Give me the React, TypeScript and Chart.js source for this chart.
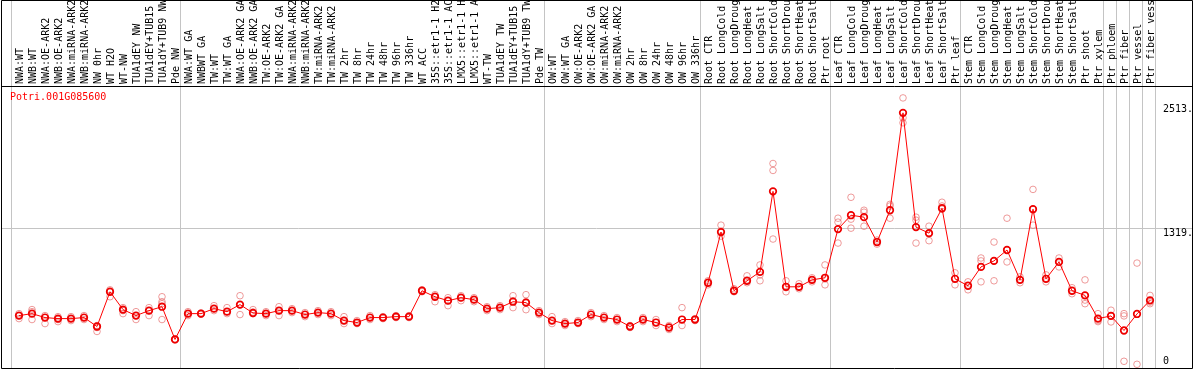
import { useEffect, useRef } from "react";
import { Chart, registerables } from "chart.js";

Chart.register(...registerables);

const title = "Potri.001G085600";

const categories = [
  "NWA:WT", "NWB:WT", "NWA:OE-ARK2", "NWB:OE-ARK2", "NWA:miRNA-ARK2", "NWB:miRNA-ARK2",
  "NW 0hr", "WT H2O", "WT-NW", "TUA1dEY NW", "TUA1dEY+TUB15", "TUA1dY+TUB9 NW", "Pde NW",
  "NWA:WT GA", "NWBWT GA", "TW:WT", "TW:WT GA", "NWA:OE-ARK2 GA", "NWB:OE-ARK2 GA",
  "TW:OE-ARK2", "TW:OE-ARK2 GA", "NWA:miRNA-ARK2 GA", "NWB:miRNA-ARK2 GA", "TW:miRNA-ARK2",
  "TW:miRNA-ARK2 GA", "TW 2hr", "TW 8hr", "TW 24hr", "TW 48hr", "TW 96hr", "TW 336hr",
  "WT ACC", "35S::etr1-1 H2O", "35S::etr1-1 ACC", "LMX5::etr1-1 H2O", "LMX5::etr1-1 ACC",
  "WT-TW", "TUA1dEY TW", "TUA1dEY+TUB15", "TUA1dY+TUB9 TW", "Pde TW",
  "OW:WT", "OW:WT GA", "OW:OE-ARK2", "OW:OE-ARK2 GA", "OW:miRNA-ARK2", "OW:miRNA-ARK2 GA",
  "OW 2hr", "OW 8hr", "OW 24hr", "OW 48hr", "OW 96hr", "OW 336hr",
  "Root CTR", "Root LongCold", "Root LongDrought", "Root LongHeat", "Root LongSalt",
  "Root ShortCold", "Root ShortDrought", "Root ShortHeat", "Root ShortSalt", "Ptr root",
  "Leaf CTR", "Leaf LongCold", "Leaf LongDrought", "Leaf LongHeat", "Leaf LongSalt",
  "Leaf ShortCold", "Leaf ShortDrought", "Leaf ShortHeat", "Leaf ShortSalt", "Ptr leaf",
  "Stem CTR", "Stem LongCold", "Stem LongDrought", "Stem LongHeat", "Stem LongSalt",
  "Stem ShortCold", "Stem ShortDrought", "Stem ShortHeat", "Stem ShortSalt", "Ptr shoot",
  "Ptr xylem", "Ptr phloem", "Ptr fiber", "Ptr vessel", "Ptr fiber vessel",
];

// boundaries (in category units) where grey separator lines are drawn
const groupBoundaries = [0, 13, 41, 53, 63, 73, 84, 85, 86, 87, 88];

const meanValues = [
  470, 489, 451, 441, 441, 451, 365, 700, 528, 470, 518, 556, 240,
  489, 489, 537, 508, 576, 495, 489, 518, 518, 480, 499, 489, 422, 403, 451, 451, 460, 460,
  710, 652, 614, 643, 624, 537, 547, 604, 595, 499,
  422, 393, 403, 480, 451, 432, 365, 432, 403, 355, 432, 432,
  787, 1276, 710, 806, 892, 1669, 748, 748, 815, 835,
  1305, 1439, 1420, 1180, 1487, 2427, 1324, 1266, 1506, 825,
  758, 940, 998, 1103, 815, 1497, 825, 988, 710, 665,
  441, 467, 326, 486, 617,
];

const replicates = [
  [489, 470, 441], [528, 508, 432], [470, 451, 393], [460, 432, 412], [460, 441, 422],
  [470, 451, 432], [374, 355, 317], [719, 700, 652], [547, 518, 489], [508, 470, 432],
  [547, 518, 470], [652, 604, 585, 432], [245, 240, 235],
  [508, 489, 470], [495, 489, 483], [566, 537, 518], [547, 508, 489], [662, 576, 480],
  [528, 504, 489], [508, 489, 470], [556, 518, 470], [537, 518, 499], [499, 480, 460],
  [518, 499, 480], [508, 489, 470], [460, 422, 393], [422, 403, 393], [470, 451, 432],
  [460, 451, 441], [470, 460, 451], [470, 460, 451], [719, 710, 700], [672, 652, 604],
  [643, 614, 566], [662, 643, 614], [643, 624, 604], [556, 537, 518], [566, 547, 528],
  [662, 614, 547], [672, 604, 527], [518, 499, 480],
  [460, 422, 393], [412, 393, 374], [422, 403, 393], [499, 480, 460], [470, 451, 432],
  [451, 432, 412], [374, 365, 355], [451, 432, 412], [432, 403, 374], [374, 355, 336],
  [547, 432, 374], [441, 432, 422],
  [806, 787, 767], [1343, 1285, 1237], [729, 710, 700], [854, 815, 787], [959, 863, 806],
  [1938, 1871, 1209], [806, 739, 700], [777, 748, 729], [835, 815, 796], [959, 825, 767],
  [1410, 1372, 1170], [1612, 1401, 1314], [1487, 1468, 1333], [1199, 1180, 1160],
  [1544, 1528, 1410], [2571, 2379, 2331], [1420, 1391, 1170], [1333, 1257, 1193],
  [1564, 1528, 1497], [883, 825, 767],
  [796, 758, 719], [1026, 998, 796], [1180, 998, 806], [1410, 1103, 988], [844, 815, 787],
  [1688, 1497, 1343], [863, 825, 796], [1026, 988, 940], [739, 710, 681], [815, 620, 585],
  [489, 422, 412], [522, 470, 409], [489, 467, 29], [977, 0], [665, 600, 585],
];

const yTickValues = [2513, 1319, 0];
const yTickLabels = ["2513.", "1319.", "0"];
const gridValues = [1319];
const yMax = 2686;
const pointOffset = 8 / 13;

const FONT = "10px 'DejaVu Sans Mono', monospace";

const framePlugin = {
  id: "framePlugin",
  beforeDatasetsDraw(chart: any) {
    const ctx = chart.ctx;
    const xs = chart.scales.x;
    const ys = chart.scales.y;
    const W = chart.width;
    ctx.save();
    ctx.strokeStyle = "#c4c4c4";
    ctx.lineWidth = 1;
    for (const b of groupBoundaries) {
      const px = Math.round(xs.getPixelForValue(b)) + 0.5;
      ctx.beginPath();
      ctx.moveTo(px, 0);
      ctx.lineTo(px, 368);
      ctx.stroke();
    }
    for (const g of gridValues) {
      const py = Math.round(ys.getPixelForValue(g)) + 0.5;
      ctx.beginPath();
      ctx.moveTo(1, py);
      ctx.lineTo(W - 2, py);
      ctx.stroke();
    }
    ctx.restore();
  },
  afterDraw(chart: any) {
    const ctx = chart.ctx;
    const xs = chart.scales.x;
    const ys = chart.scales.y;
    const W = chart.width;
    ctx.save();
    // frame
    ctx.strokeStyle = "#000";
    ctx.lineWidth = 1;
    ctx.beginPath();
    ctx.moveTo(1.5, 0.5);
    ctx.lineTo(W - 1.5, 0.5);
    ctx.lineTo(W - 1.5, 368.5);
    ctx.lineTo(1.5, 368.5);
    ctx.closePath();
    ctx.moveTo(1.5, 86.5);
    ctx.lineTo(W - 1.5, 86.5);
    ctx.stroke();

    // category labels (rotated)
    ctx.fillStyle = "#000";
    ctx.font = FONT;
    ctx.textAlign = "left";
    ctx.textBaseline = "alphabetic";
    categories.forEach((c, i) => {
      const px = xs.getPixelForValue(i + pointOffset);
      ctx.save();
      ctx.translate(px, 84);
      ctx.rotate(-Math.PI / 2);
      ctx.fillText(c, 0, 4);
      ctx.restore();
    });

    // title
    ctx.fillStyle = "#ff0000";
    ctx.fillText(title, 10, 100);

    // y labels
    ctx.fillStyle = "#000";
    yTickValues.forEach((v, i) => {
      const py = ys.getPixelForValue(v);
      const base = v === 0 ? py : py + 8;
      ctx.fillText(yTickLabels[i], 1163, base);
    });
    ctx.restore();
  },
};

export default function App() {
  const ref = useRef<HTMLCanvasElement | null>(null);
  useEffect(() => {
    if (!ref.current) return;
    const meanData = meanValues.map((v, i) => ({ x: i + pointOffset, y: v }));
    const repData: { x: number; y: number }[] = [];
    replicates.forEach((arr, i) => arr.forEach((v) => repData.push({ x: i + pointOffset, y: v })));
    const chart = new Chart(ref.current, {
      type: "line",
      data: {
        datasets: [
          {
            data: meanData,
            borderColor: "#ff0000",
            borderWidth: 1,
            pointRadius: 3.3,
            pointBorderWidth: 1.7,
            pointBorderColor: "#ee0000",
            pointBackgroundColor: "rgba(0,0,0,0)",
            order: 0,
          },
          {
            data: repData,
            showLine: false,
            pointRadius: 3.3,
            pointBorderWidth: 1,
            pointBorderColor: "rgba(232,120,120,0.75)",
            pointBackgroundColor: "rgba(0,0,0,0)",
            order: 1,
          },
        ],
      },
      options: {
        animation: false,
        responsive: false,
        devicePixelRatio: 1,
        layout: { padding: { left: 11, right: 39, top: 86, bottom: 4 } },
        scales: {
          x: { type: "linear", min: 0, max: 88, display: false },
          y: { type: "linear", min: 0, max: yMax, display: false },
        },
        plugins: { legend: { display: false }, tooltip: { enabled: false } },
        clip: false,
      } as any,
      plugins: [framePlugin],
    });
    return () => chart.destroy();
  }, []);
  return (
    <div style={{ position: "fixed", left: 0, top: 0, width: 1194, height: 370, background: "#fff" }}>
      <canvas ref={ref} width={1194} height={370} style={{ width: 1194, height: 370, display: "block" }} />
    </div>
  );
}
